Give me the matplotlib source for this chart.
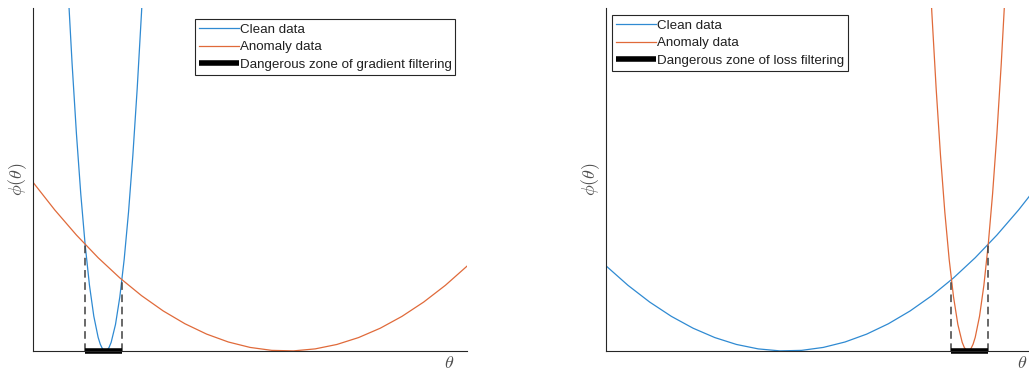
import matplotlib
matplotlib.use("Agg")
import matplotlib.pyplot as plt

plt.rcParams["font.family"] = ["Liberation Sans", "DejaVu Sans"]
plt.rcParams["mathtext.fontset"] = "cm"

BLUE = "#2F8AD2"
ORANGE = "#E06A3A"
AXIS = "#262626"

# --- left panel: gradient filtering ---
theta_narrow_l = [0.80, 0.90, 1.00, 1.10, 1.20, 1.30, 1.40, 1.50, 1.55, 1.60, 1.65, 1.70,
                  1.75, 1.80, 1.90, 2.00, 2.10, 2.20, 2.30, 2.40, 2.50, 2.60]
phi_narrow_l = [10.70, 8.377, 6.335, 4.578, 3.106, 1.918, 1.015, 0.397, 0.195, 0.064, 0.004, 0.016,
                0.098, 0.252, 0.773, 1.579, 2.670, 4.045, 5.706, 7.651, 9.881, 12.40]
theta_wide_l = [0.0, 0.5, 1.0, 1.5, 2.0, 2.5, 3.0, 3.5, 4.0, 4.5, 5.0,
                5.5, 6.0, 6.5, 7.0, 7.5, 8.0, 8.5, 9.0, 9.5, 10.0]
phi_wide_l = [4.918, 4.113, 3.380, 2.719, 2.130, 1.613, 1.167, 0.794, 0.492, 0.262, 0.104,
              0.018, 0.003, 0.061, 0.190, 0.391, 0.664, 1.009, 1.426, 1.914, 2.475]
zone_theta_l = [1.20, 2.05]
zone_phi_l = [3.11, 2.08]

# --- right panel: loss filtering ---
theta_wide_r = [0.0, 0.5, 1.0, 1.5, 2.0, 2.5, 3.0, 3.5, 4.0, 4.5, 5.0,
                5.5, 6.0, 6.5, 7.0, 7.5, 8.0, 8.5, 9.0, 9.5, 10.0]
phi_wide_r = [2.475, 1.914, 1.426, 1.009, 0.664, 0.391, 0.190, 0.061, 0.003, 0.018, 0.104,
              0.262, 0.492, 0.794, 1.167, 1.613, 2.130, 2.719, 3.380, 4.113, 4.918]
theta_narrow_r = [7.40, 7.50, 7.60, 7.70, 7.80, 7.90, 8.00, 8.10, 8.20, 8.25, 8.30, 8.35,
                  8.40, 8.45, 8.50, 8.60, 8.70, 8.80, 8.90, 9.00, 9.10, 9.20]
phi_narrow_r = [12.40, 9.881, 7.651, 5.706, 4.045, 2.670, 1.579, 0.773, 0.252, 0.098, 0.016, 0.004,
                0.064, 0.195, 0.397, 1.015, 1.918, 3.106, 4.578, 6.335, 8.377, 10.70]
zone_theta_r = [7.95, 8.80]
zone_phi_r = [2.08, 3.11]

labels = ["Clean data", "Anomaly data"]


def draw_panel(ax, x_clean, y_clean, x_anom, y_anom, zone_x, zone_y, zone_label, legend_loc):
    h1, = ax.plot(x_clean, y_clean, color=BLUE, lw=0.9)
    h2, = ax.plot(x_anom, y_anom, color=ORANGE, lw=0.9)
    for zx, zy in zip(zone_x, zone_y):
        ax.plot([zx, zx], [0, zy], color="#404040", lw=1.1, ls=(0, (5, 3)))
    h3, = ax.plot(zone_x, [0, 0], color="black", lw=4, solid_capstyle="butt", clip_on=False)
    ax.set_xlim(0, 10)
    ax.set_ylim(0, 10)
    ax.set_xticks([])
    ax.set_yticks([])
    for s in ["top", "right"]:
        ax.spines[s].set_visible(False)
    for s in ["left", "bottom"]:
        ax.spines[s].set_color(AXIS)
        ax.spines[s].set_linewidth(0.8)
    ax.set_ylabel(r"$\phi(\theta)$", fontsize=13, color="#505050", labelpad=3)
    leg = ax.legend([h1, h2, h3], labels + [zone_label], fontsize=9.6,
                    handlelength=3.0, handletextpad=0.05, borderpad=0.3,
                    labelspacing=0.4, fancybox=False, framealpha=1,
                    edgecolor=AXIS, borderaxespad=0, **legend_loc)
    leg.get_frame().set_linewidth(0.8)
    for t in leg.get_texts():
        t.set_color("#202020")


fig = plt.figure(figsize=(10.29, 3.70), dpi=100)
ax1 = fig.add_axes([0.0321, 0.0514, 0.4218, 0.9270])
ax2 = fig.add_axes([0.5892, 0.0514, 0.4218, 0.9270])

draw_panel(ax1, theta_narrow_l, phi_narrow_l, theta_wide_l, phi_wide_l,
           zone_theta_l, zone_phi_l, "Dangerous zone of gradient filtering",
           dict(loc="upper left", bbox_to_anchor=(0.373, 0.967)))
draw_panel(ax2, theta_wide_r, phi_wide_r, theta_narrow_r, phi_narrow_r,
           zone_theta_r, zone_phi_r, "Dangerous zone of loss filtering",
           dict(loc="upper left", bbox_to_anchor=(0.013, 0.979)))

ax1.text(9.585, -0.36, r"$\theta$", fontsize=13, color="#505050",
         ha="center", va="center", clip_on=False)
ax2.text(9.57, -0.36, r"$\theta$", fontsize=13, color="#505050",
         ha="center", va="center", clip_on=False)

fig.savefig("out.png", dpi=100, facecolor="white")
